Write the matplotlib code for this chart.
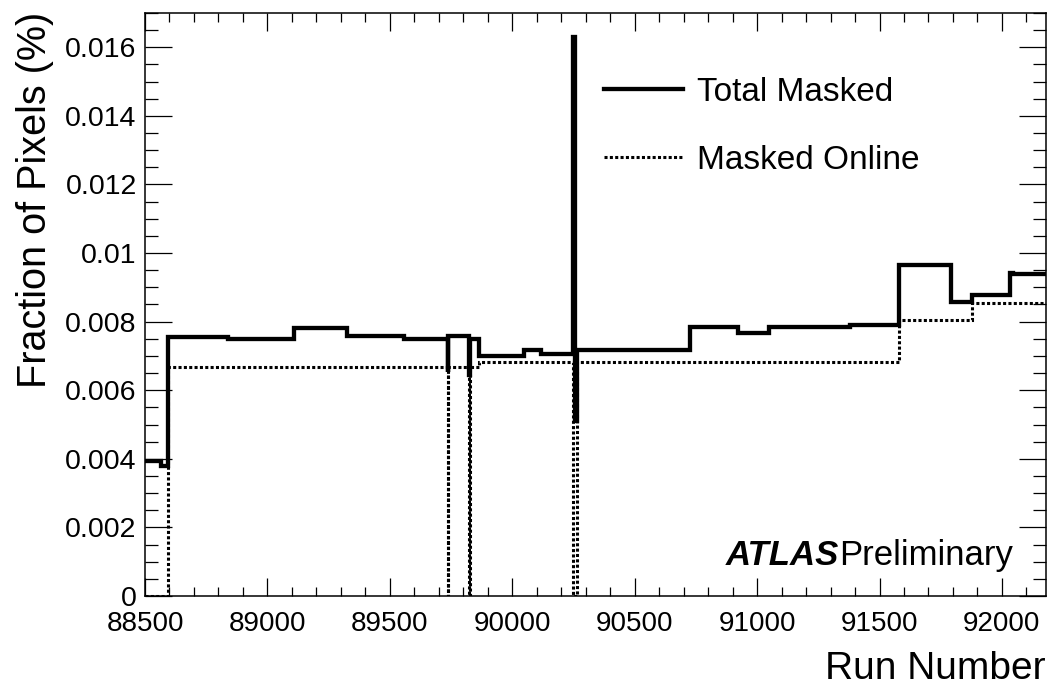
import matplotlib
matplotlib.use("Agg")
import matplotlib.pyplot as plt
from matplotlib.ticker import MultipleLocator, FuncFormatter

plt.rcParams["font.family"] = ["Liberation Sans", "DejaVu Sans"]

# Bin edges (run numbers) and masked-pixel fractions (%) per bin
total_edges = [88500, 88564, 88595, 88840, 89107, 89326, 89557, 89736, 89738,
               89825, 89827, 89866, 90048, 90117, 90247, 90255, 90263, 90726,
               90923, 91048, 91381, 91581, 91793, 91877, 92033, 92045, 92180]
total_frac = [0.00393, 0.00379, 0.00754, 0.00748, 0.00781, 0.00757, 0.00750,
              0.00652, 0.00758, 0.00643, 0.00748, 0.00701, 0.00716, 0.00706,
              0.01630, 0.00510, 0.00718, 0.00785, 0.00766, 0.00785, 0.00791,
              0.00966, 0.00856, 0.00879, 0.00943, 0.00939]

online_edges = [88500, 88595, 89736, 89738, 89825, 89827, 89866, 90249,
                90263, 91581, 91877, 92180]
online_frac = [0.0, 0.00667, 0.0, 0.00667, 0.0, 0.00667, 0.00682, 0.0,
               0.00682, 0.00806, 0.00854]

x_range = (88500, 92180)
y_range = (0.0, 0.017)

W, H = 1052, 687
fig = plt.figure(figsize=(W / 100, H / 100), dpi=100)
ax = fig.add_axes([145 / W, 1 - 596 / H, (1046 - 145) / W, (596 - 13) / H])

ax.stairs(total_frac, total_edges, baseline=None, color="black",
          linewidth=3.1, label="Total Masked", zorder=3)
ax.stairs(online_frac, online_edges, baseline=None, color="black",
          linewidth=2.2, linestyle=(0, (1.0, 0.75)), label="Masked Online",
          zorder=2)

ax.set_xlim(*x_range)
ax.set_ylim(*y_range)

ax.xaxis.set_major_locator(MultipleLocator(500))
ax.xaxis.set_minor_locator(MultipleLocator(100))
ax.yaxis.set_major_locator(MultipleLocator(0.002))
ax.yaxis.set_minor_locator(MultipleLocator(0.0005))
ax.xaxis.set_major_formatter(FuncFormatter(lambda v, p: "%d" % round(v)))
ax.yaxis.set_major_formatter(FuncFormatter(lambda v, p: "%g" % round(v, 6)))

ax.tick_params(axis="both", which="both", direction="in", top=True,
               right=True, width=0.9, colors="black")
ax.tick_params(axis="x", which="major", length=13, pad=11, labelsize=20)
ax.tick_params(axis="x", which="minor", length=6.5)
ax.tick_params(axis="y", which="major", length=19.5, pad=6, labelsize=20.5)
ax.tick_params(axis="y", which="minor", length=9.5)
for s in ax.spines.values():
    s.set_linewidth(1.1)

fig.text(1046 / W, 1 - 669 / H, "Run Number", ha="right", va="center",
         fontsize=28)
fig.text(35 / W, 1 - 12 / H, "Fraction of Pixels (%)", rotation=90,
         ha="center", va="top", fontsize=28.5)

ax.legend(loc="upper left", bbox_to_anchor=(0.5094, 0.891), frameon=False,
          fontsize=24, handlelength=2.37, handletextpad=0.42,
          labelspacing=1.11, borderpad=0, borderaxespad=0)

atlas = ax.text(0.645, 0.042, "ATLAS", transform=ax.transAxes,
                fontsize=25, fontweight="bold", fontstyle="italic",
                ha="left", va="bottom")
ax.annotate("Preliminary", xy=(1, 0), xycoords=atlas, ha="left",
            va="bottom", fontsize=25)

fig.savefig("out.png", dpi=100)
